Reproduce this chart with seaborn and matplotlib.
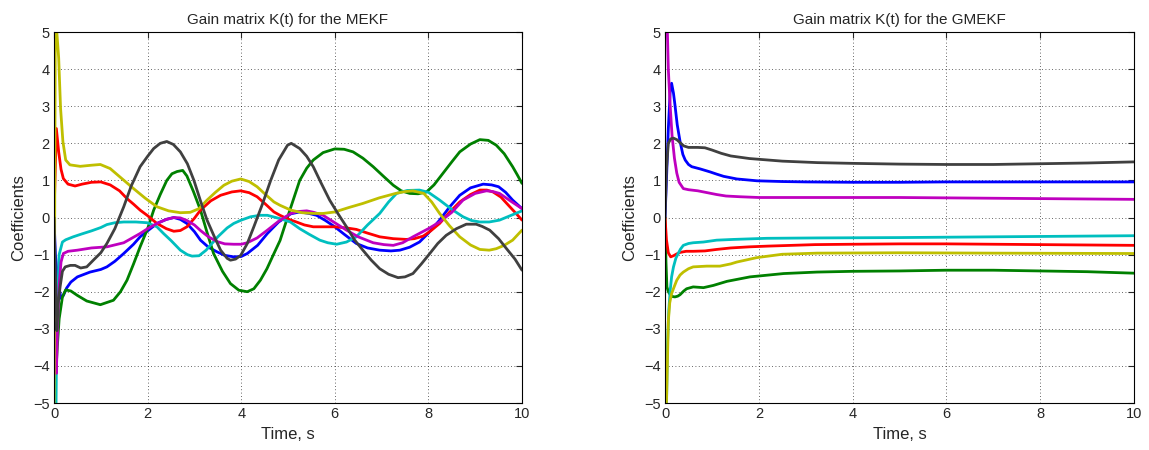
import numpy as np
import pandas as pd
import matplotlib
matplotlib.use("Agg")
import matplotlib.pyplot as plt
import seaborn as sns

# --- data (time in s, gain coefficient) ---
# MEKF (left panel)
mekf_blue_t = [0, 0.03, 0.08, 0.15, 0.2, 0.27, 0.36, 0.5, 0.77, 1.0, 1.13, 1.3, 1.49, 1.7, 1.84, 2.0, 2.2, 2.4, 2.56, 2.7, 2.84, 3.0, 3.13, 3.3, 3.49, 3.65, 3.84, 4.0, 4.13, 4.35, 4.56, 4.8, 5.06, 5.25, 5.45, 5.61, 5.8, 6.0, 6.2, 6.46, 6.7, 6.96, 7.2, 7.39, 7.6, 7.81, 8.0, 8.24, 8.45, 8.67, 8.9, 9.17, 9.35, 9.5, 9.65, 9.8, 10]
mekf_blue_k = [0, -1.0, -1.7, -2.18, -2.1, -1.9, -1.74, -1.6, -1.47, -1.4, -1.33, -1.18, -0.97, -0.72, -0.52, -0.36, -0.16, -0.05, 0.0, -0.05, -0.16, -0.38, -0.61, -0.8, -0.93, -1.02, -1.06, -1.05, -0.97, -0.75, -0.43, -0.12, 0.1, 0.15, 0.11, 0.06, -0.08, -0.25, -0.45, -0.7, -0.82, -0.88, -0.9, -0.88, -0.8, -0.66, -0.42, -0.07, 0.28, 0.6, 0.8, 0.9, 0.88, 0.83, 0.68, 0.47, 0.24]

mekf_green_t = [0, 0.04, 0.07, 0.11, 0.18, 0.25, 0.36, 0.5, 0.7, 0.99, 1.27, 1.42, 1.56, 1.7, 1.84, 2.0, 2.13, 2.27, 2.41, 2.52, 2.63, 2.75, 2.84, 2.98, 3.13, 3.27, 3.41, 3.6, 3.77, 3.95, 4.13, 4.27, 4.41, 4.55, 4.7, 4.83, 5.04, 5.25, 5.4, 5.54, 5.75, 6.0, 6.2, 6.39, 6.6, 6.82, 7.05, 7.25, 7.42, 7.6, 7.78, 7.96, 8.12, 8.31, 8.5, 8.67, 8.9, 9.1, 9.28, 9.45, 9.62, 9.8, 9.9, 10]
mekf_green_k = [0, -4.17, -3.5, -2.73, -2.14, -1.95, -1.98, -2.1, -2.25, -2.35, -2.23, -2.0, -1.69, -1.25, -0.79, -0.3, 0.2, 0.62, 1.0, 1.18, 1.24, 1.27, 1.12, 0.7, 0.2, -0.4, -0.97, -1.45, -1.78, -1.96, -2.0, -1.92, -1.69, -1.38, -0.97, -0.62, 0.2, 1.0, 1.33, 1.55, 1.75, 1.85, 1.84, 1.77, 1.6, 1.37, 1.1, 0.87, 0.72, 0.65, 0.64, 0.69, 0.88, 1.19, 1.5, 1.77, 1.98, 2.1, 2.08, 1.95, 1.72, 1.37, 1.15, 0.92]

mekf_red_t = [0, 0.05, 0.1, 0.15, 0.2, 0.3, 0.45, 0.6, 0.8, 1.0, 1.2, 1.4, 1.56, 1.7, 1.84, 2.0, 2.2, 2.4, 2.56, 2.7, 2.84, 3.0, 3.13, 3.35, 3.56, 3.8, 3.99, 4.17, 4.34, 4.52, 4.7, 4.83, 5.0, 5.18, 5.35, 5.54, 5.8, 6.0, 6.25, 6.46, 6.7, 6.96, 7.25, 7.53, 7.7, 7.89, 8.05, 8.24, 8.45, 8.67, 8.9, 9.1, 9.25, 9.38, 9.55, 9.74, 9.88, 10]
mekf_red_k = [0, 2.4, 1.77, 1.3, 1.05, 0.9, 0.85, 0.9, 0.95, 0.96, 0.88, 0.72, 0.51, 0.36, 0.2, 0.05, -0.16, -0.3, -0.37, -0.35, -0.25, -0.02, 0.2, 0.45, 0.6, 0.69, 0.72, 0.67, 0.56, 0.36, 0.15, 0.06, -0.04, -0.12, -0.2, -0.25, -0.25, -0.25, -0.28, -0.32, -0.42, -0.52, -0.57, -0.59, -0.57, -0.5, -0.36, -0.16, 0.14, 0.42, 0.62, 0.74, 0.74, 0.69, 0.55, 0.29, 0.1, -0.07]

mekf_cyan_t = [0, 0.02, 0.04, 0.06, 0.11, 0.18, 0.25, 0.41, 0.6, 0.8, 1.0, 1.13, 1.3, 1.49, 1.75, 1.99, 2.2, 2.34, 2.5, 2.7, 2.85, 2.95, 3.1, 3.25, 3.5, 3.7, 3.84, 4.0, 4.2, 4.4, 4.56, 4.83, 5.05, 5.25, 5.45, 5.68, 5.85, 6.04, 6.25, 6.46, 6.7, 6.96, 7.15, 7.32, 7.55, 7.81, 8.0, 8.24, 8.5, 8.74, 8.92, 9.1, 9.3, 9.52, 9.75, 10]
mekf_cyan_k = [0, -5.5, -5.5, -2.9, -1.0, -0.66, -0.6, -0.52, -0.44, -0.36, -0.27, -0.19, -0.14, -0.12, -0.12, -0.14, -0.25, -0.43, -0.62, -0.88, -1.0, -1.04, -1.03, -0.88, -0.52, -0.28, -0.16, -0.07, 0.02, 0.06, 0.06, -0.03, -0.12, -0.3, -0.45, -0.61, -0.68, -0.72, -0.66, -0.52, -0.2, 0.11, 0.42, 0.65, 0.73, 0.74, 0.68, 0.47, 0.22, 0.02, -0.08, -0.12, -0.12, -0.07, 0.05, 0.18]

mekf_magenta_t = [0, 0.03, 0.05, 0.08, 0.11, 0.15, 0.2, 0.3, 0.5, 0.8, 1.13, 1.49, 1.84, 2.0, 2.2, 2.4, 2.56, 2.7, 2.84, 3.0, 3.13, 3.3, 3.49, 3.65, 3.84, 4.0, 4.13, 4.34, 4.56, 4.8, 5.06, 5.2, 5.4, 5.55, 5.75, 6.0, 6.25, 6.5, 6.82, 7.05, 7.25, 7.45, 7.67, 8.0, 8.24, 8.5, 8.74, 9.0, 9.24, 9.38, 9.52, 9.75, 10]
mekf_magenta_k = [0, -3.0, -4.2, -2.8, -1.83, -1.2, -0.97, -0.91, -0.88, -0.82, -0.79, -0.68, -0.43, -0.3, -0.16, -0.05, 0.0, -0.01, -0.08, -0.2, -0.35, -0.52, -0.65, -0.71, -0.72, -0.72, -0.68, -0.55, -0.34, -0.1, 0.11, 0.16, 0.18, 0.14, 0.06, -0.14, -0.34, -0.52, -0.68, -0.73, -0.75, -0.68, -0.52, -0.3, -0.12, 0.14, 0.47, 0.65, 0.72, 0.7, 0.65, 0.45, 0.24]

mekf_yellow_t = [0, 0.03, 0.06, 0.1, 0.14, 0.19, 0.25, 0.34, 0.56, 0.8, 0.99, 1.2, 1.45, 1.7, 1.95, 2.2, 2.45, 2.7, 2.91, 3.1, 3.27, 3.45, 3.63, 3.8, 3.99, 4.17, 4.34, 4.52, 4.7, 4.83, 5.06, 5.3, 5.54, 5.75, 6.0, 6.3, 6.6, 6.95, 7.3, 7.5, 7.67, 7.9, 8.07, 8.24, 8.45, 8.67, 8.9, 9.1, 9.3, 9.45, 9.62, 9.8, 10]
mekf_yellow_k = [-6, 6, 5.0, 4.3, 2.95, 2.05, 1.55, 1.42, 1.38, 1.41, 1.43, 1.32, 1.05, 0.78, 0.52, 0.29, 0.18, 0.13, 0.14, 0.24, 0.47, 0.68, 0.87, 0.98, 1.04, 0.97, 0.83, 0.62, 0.42, 0.33, 0.2, 0.13, 0.11, 0.11, 0.15, 0.27, 0.38, 0.53, 0.65, 0.7, 0.72, 0.65, 0.42, 0.11, -0.22, -0.52, -0.74, -0.86, -0.88, -0.84, -0.75, -0.61, -0.34]

mekf_gray_t = [0, 0.03, 0.06, 0.09, 0.13, 0.18, 0.24, 0.35, 0.45, 0.57, 0.7, 0.84, 1.0, 1.13, 1.3, 1.49, 1.65, 1.84, 2.0, 2.13, 2.27, 2.41, 2.55, 2.7, 2.85, 2.99, 3.13, 3.27, 3.42, 3.56, 3.7, 3.77, 3.88, 3.99, 4.13, 4.27, 4.45, 4.63, 4.8, 4.99, 5.07, 5.25, 5.4, 5.54, 5.7, 5.89, 6.07, 6.25, 6.42, 6.6, 6.78, 6.96, 7.15, 7.35, 7.5, 7.67, 7.85, 8.03, 8.2, 8.38, 8.6, 8.81, 9.02, 9.15, 9.31, 9.5, 9.67, 9.85, 10]
mekf_gray_k = [0, -1.5, -3.05, -2.3, -1.87, -1.45, -1.33, -1.29, -1.29, -1.36, -1.33, -1.15, -0.95, -0.7, -0.3, 0.29, 0.85, 1.37, 1.65, 1.86, 2.0, 2.05, 1.97, 1.77, 1.45, 1.0, 0.45, -0.07, -0.5, -0.88, -1.1, -1.15, -1.12, -1.02, -0.7, -0.25, 0.35, 1.0, 1.55, 1.95, 2.0, 1.86, 1.65, 1.37, 0.95, 0.47, 0.1, -0.25, -0.6, -0.88, -1.15, -1.38, -1.53, -1.62, -1.6, -1.51, -1.25, -0.97, -0.7, -0.48, -0.3, -0.18, -0.18, -0.24, -0.34, -0.57, -0.84, -1.12, -1.42]

# GMEKF (right panel)
gmekf_blue_t = [0, 0.03, 0.07, 0.11, 0.14, 0.18, 0.21, 0.26, 0.32, 0.38, 0.43, 0.5, 0.57, 0.75, 0.96, 1.1, 1.25, 1.53, 1.96, 2.5, 3.0, 4.0, 5.0, 6.0, 7.0, 8.0, 9.0, 10]
gmekf_blue_k = [0, 1.0, 2.4, 3.4, 3.62, 3.35, 3.05, 2.5, 2.05, 1.7, 1.55, 1.43, 1.37, 1.31, 1.23, 1.17, 1.11, 1.04, 0.99, 0.97, 0.96, 0.95, 0.95, 0.96, 0.96, 0.96, 0.96, 0.96]

gmekf_green_t = [0, 0.02, 0.04, 0.07, 0.11, 0.16, 0.21, 0.27, 0.32, 0.4, 0.46, 0.6, 0.82, 1.03, 1.32, 1.81, 2.53, 3.24, 4.0, 5.0, 6.0, 7.0, 8.0, 9.0, 10]
gmekf_green_k = [0, -1.2, -1.87, -2.0, -2.08, -2.13, -2.14, -2.12, -2.08, -1.98, -1.92, -1.87, -1.89, -1.83, -1.72, -1.6, -1.51, -1.47, -1.45, -1.44, -1.42, -1.42, -1.44, -1.46, -1.5]

gmekf_red_t = [0, 0.03, 0.07, 0.12, 0.18, 0.25, 0.32, 0.45, 0.6, 0.85, 1.1, 1.4, 1.8, 2.2, 3.2, 4.0, 5.0, 6.0, 7.0, 8.0, 9.0, 10]
gmekf_red_k = [0, -0.6, -0.95, -1.06, -1.03, -0.98, -0.94, -0.91, -0.91, -0.9, -0.86, -0.82, -0.79, -0.77, -0.73, -0.72, -0.71, -0.71, -0.72, -0.73, -0.74, -0.75]

gmekf_cyan_t = [0, 0.03, 0.05, 0.08, 0.11, 0.14, 0.18, 0.23, 0.28, 0.33, 0.39, 0.5, 0.6, 0.82, 1.1, 1.46, 2.17, 3.24, 5.0, 6.0, 7.0, 8.0, 9.0, 10]
gmekf_cyan_k = [-6, -5.2, -3.5, -2.5, -1.96, -1.6, -1.33, -1.1, -0.97, -0.85, -0.75, -0.7, -0.68, -0.66, -0.61, -0.59, -0.56, -0.55, -0.54, -0.53, -0.52, -0.51, -0.5, -0.49]

gmekf_magenta_t = [0, 0.03, 0.05, 0.07, 0.11, 0.15, 0.2, 0.25, 0.3, 0.39, 0.5, 0.7, 0.9, 1.1, 1.3, 1.6, 2.0, 3.0, 4.0, 5.0, 6.0, 7.0, 8.0, 9.0, 10]
gmekf_magenta_k = [6, 6, 5.0, 4.0, 3.0, 2.2, 1.6, 1.2, 0.95, 0.78, 0.75, 0.72, 0.67, 0.62, 0.58, 0.56, 0.54, 0.54, 0.54, 0.54, 0.53, 0.52, 0.51, 0.5, 0.49]

gmekf_yellow_t = [0, 0.02, 0.04, 0.07, 0.1, 0.14, 0.2, 0.25, 0.32, 0.39, 0.5, 0.6, 0.89, 1.17, 1.4, 1.53, 1.96, 2.5, 3.24, 5.0, 7.0, 10]
gmekf_yellow_k = [-6, -5.5, -4.5, -2.8, -2.3, -2.05, -1.85, -1.69, -1.55, -1.47, -1.38, -1.33, -1.31, -1.31, -1.25, -1.2, -1.08, -0.99, -0.96, -0.95, -0.96, -0.97]

gmekf_gray_t = [0, 0.03, 0.07, 0.12, 0.18, 0.25, 0.32, 0.4, 0.5, 0.7, 0.85, 1.0, 1.2, 1.4, 1.8, 2.5, 3.25, 4.0, 5.0, 6.0, 7.0, 8.0, 9.0, 10]
gmekf_gray_k = [0, 1.3, 2.0, 2.12, 2.14, 2.1, 2.02, 1.93, 1.89, 1.89, 1.88, 1.82, 1.73, 1.66, 1.59, 1.52, 1.48, 1.46, 1.44, 1.43, 1.43, 1.45, 1.47, 1.5]

series_order = ["blue", "green", "red", "cyan", "magenta", "yellow", "gray"]
palette = {
    "blue": (0, 0, 1),
    "green": (0, 0.5, 0),
    "red": (1, 0, 0),
    "cyan": (0, 0.75, 0.75),
    "magenta": (0.75, 0, 0.75),
    "yellow": (0.75, 0.75, 0),
    "gray": (0.25, 0.25, 0.25),
}


def build_frame(prefix):
    g = globals()
    parts = []
    for name in series_order:
        parts.append(pd.DataFrame({
            "t": g[f"{prefix}_{name}_t"],
            "k": g[f"{prefix}_{name}_k"],
            "series": name,
        }))
    return pd.concat(parts, ignore_index=True)


sns.set_style("white")
plt.rcParams["font.family"] = ["Liberation Sans", "DejaVu Sans"]

fig = plt.figure(figsize=(11.49, 4.5), dpi=100)
ax_left = fig.add_axes([0.047, 0.1044, 0.4073, 0.8244])
ax_right = fig.add_axes([0.5788, 0.1044, 0.4082, 0.8244])

panels = [(ax_left, "mekf", "Gain matrix K(t) for the MEKF"),
          (ax_right, "gmekf", "Gain matrix K(t) for the GMEKF")]

for ax, prefix, title in panels:
    df = build_frame(prefix)
    for name in series_order:
        sns.lineplot(data=df[df["series"] == name], x="t", y="k", color=palette[name],
                     sort=False, estimator=None, linewidth=2.0, ax=ax, legend=False)
    ax.set_xlim(0, 10)
    ax.set_ylim(-5, 5)
    ax.set_xticks(np.arange(0, 11, 2))
    ax.set_yticks(np.arange(-5, 6, 1))
    ax.grid(True, linestyle=(0, (1, 3)), color="black", linewidth=0.6, alpha=0.8)
    ax.tick_params(direction="in", length=4, top=True, right=True, labelsize=10.5, pad=3)
    for sp in ax.spines.values():
        sp.set_color("black")
        sp.set_linewidth(0.8)
    ax.set_title(title, fontsize=11, pad=6)
    ax.set_xlabel("Time, s", fontsize=12, labelpad=4)
    ax.set_ylabel("Coefficients", fontsize=12, labelpad=5)

fig.savefig("out.png", dpi=100)
